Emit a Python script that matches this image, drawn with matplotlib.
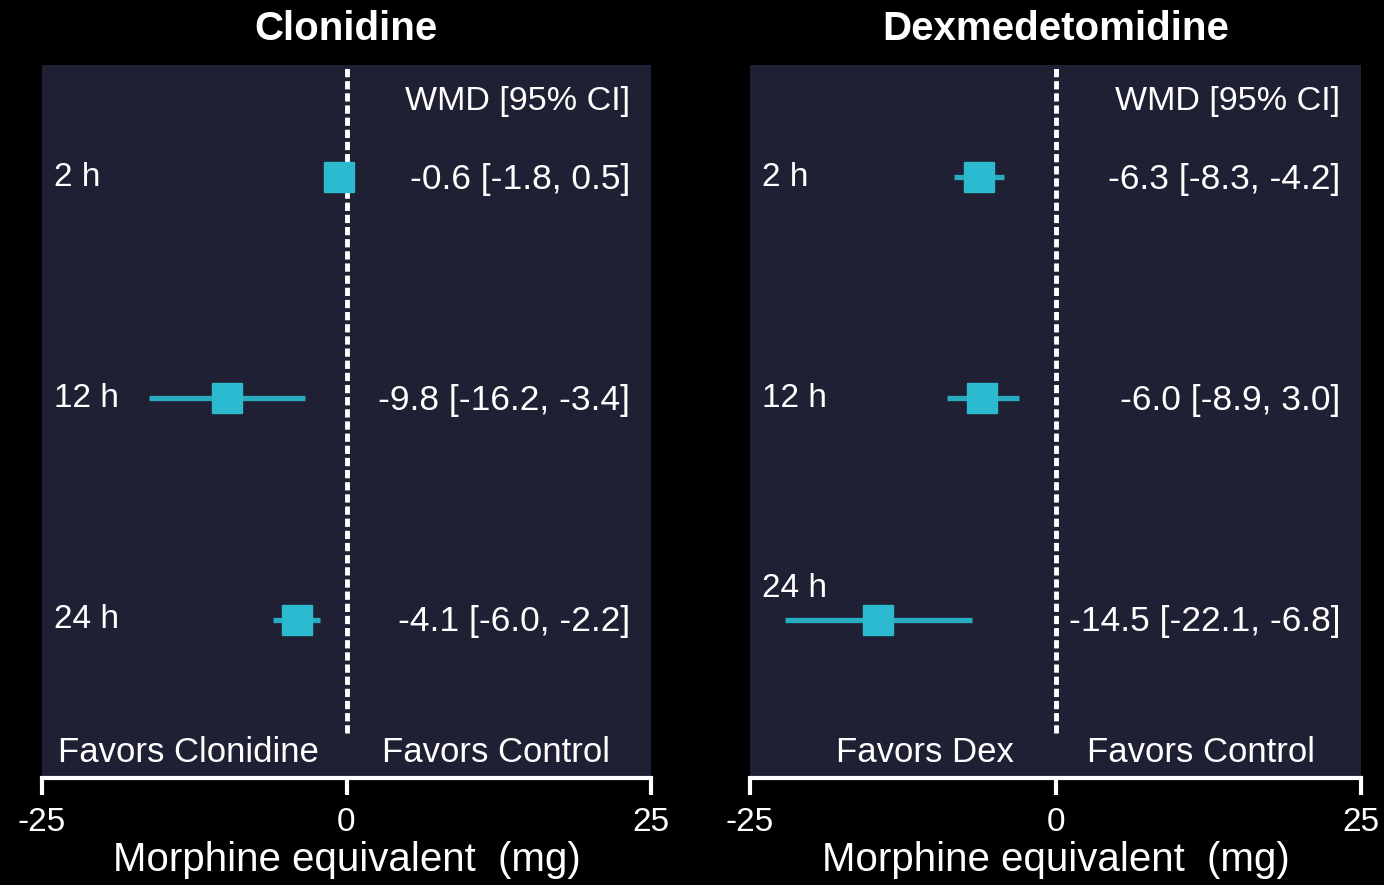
import numpy as np
import matplotlib
matplotlib.use('Agg')
import matplotlib.pyplot as plt

plt.rcParams['font.family'] = ['Liberation Sans', 'DejaVu Sans']

# Data
times = ['2 h', '12 h', '24 h']
clon_wmd = [-0.6, -9.8, -4.1]
clon_lo = [-1.8, -16.2, -6.0]
clon_hi = [0.5, -3.4, -2.2]
clon_text = ['-0.6 [-1.8, 0.5]', '-9.8 [-16.2, -3.4]', '-4.1 [-6.0, -2.2]']

dex_wmd = [-6.3, -6.0, -14.5]
dex_lo = [-8.3, -8.9, -22.1]
dex_hi = [-4.2, -3.0, -6.8]
dex_text = ['-6.3 [-8.3, -4.2]', '-6.0 [-8.9, 3.0]', '-14.5 [-22.1, -6.8]']

panel_bg = '#1f2033'
cyan = '#2bbad0'
cyan_line = '#27acc2'

fig = plt.figure(figsize=(13.84, 8.85), dpi=100)
fig.patch.set_facecolor('black')

rows = np.array([3, 2, 1])
ylo, yhi = 0.285, 3.507


def forest(ax, title, wmd, lo, hi, texts, favors_left, left_x, right_x, raise_last=False):
    ax.set_facecolor(panel_bg)
    ax.set_xlim(-25, 25)
    ax.set_ylim(ylo, yhi)

    ax.vlines(0, 0.49, yhi, colors='white', linewidth=3.5, linestyles=(0, (1.7, 0.8)), zorder=2)
    ax.hlines(rows, lo, hi, colors=cyan_line, linewidth=3.8, zorder=3)
    ax.plot(wmd, rows, 's', color=cyan, markersize=21, zorder=4)

    for i, (lab, txt) in enumerate(zip(times, texts)):
        ly = rows[i]
        if raise_last and i == len(times) - 1:
            ly = rows[i] + 0.14
        ax.text(-24.0, ly, lab, color='white', fontsize=24, ha='left', va='center')
        ax.text(23.3, rows[i] - 0.01, txt, color='white', fontsize=25.5, ha='right', va='center')

    ax.text(23.3, 3.34, 'WMD [95% CI]', color='white', fontsize=24.5, ha='right', va='center')
    ax.text(left_x, 0.40, favors_left, color='white', fontsize=25, ha='center', va='center')
    ax.text(right_x, 0.40, 'Favors Control', color='white', fontsize=25, ha='center', va='center')

    for s in ['top', 'left', 'right']:
        ax.spines[s].set_visible(False)
    ax.spines['bottom'].set_color('white')
    ax.spines['bottom'].set_linewidth(3)
    ax.set_yticks([])
    ax.set_xticks([-25, 0, 25])
    ax.set_xticklabels(['-25', '0', '25'])
    ax.tick_params(axis='x', colors='white', length=12, width=3, labelsize=24, pad=9)
    ax.set_xlabel('Morphine equivalent  (mg)', color='white', fontsize=29, labelpad=2)
    ax.set_title(title, color='white', fontsize=29, fontweight='bold', pad=18)


ax1 = fig.add_axes([42 / 1384, 107 / 885, 609 / 1384, 713 / 885])
forest(ax1, 'Clonidine', clon_wmd, clon_lo, clon_hi, clon_text, 'Favors Clonidine', -13.0, 12.3)

ax2 = fig.add_axes([750 / 1384, 107 / 885, 611 / 1384, 713 / 885])
forest(ax2, 'Dexmedetomidine', dex_wmd, dex_lo, dex_hi, dex_text, 'Favors Dex', -10.7, 11.9, raise_last=True)

fig.savefig('out.png', dpi=100, facecolor=fig.get_facecolor())
